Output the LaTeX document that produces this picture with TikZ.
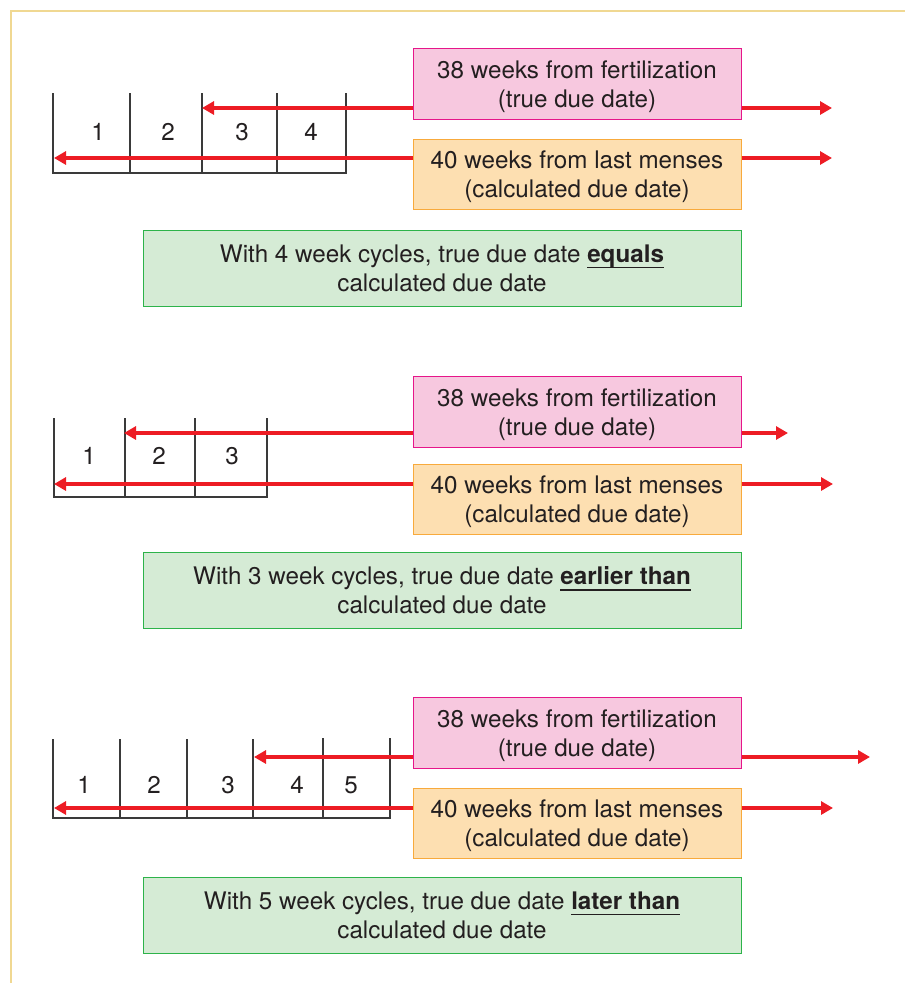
\documentclass[tikz,border=0pt]{standalone}
\usepackage{fontspec}
\setmainfont{TeX Gyre Heros}
\usetikzlibrary{arrows.meta}
\definecolor{txt}{HTML}{231F20}
\definecolor{pinkfill}{HTML}{F7C8DF}
\definecolor{pinkline}{HTML}{E6168A}
\definecolor{orfill}{HTML}{FDDFB1}
\definecolor{orline}{HTML}{F8AA3C}
\definecolor{grfill}{HTML}{D5EBD5}
\definecolor{grline}{HTML}{2DB34A}
\definecolor{arrred}{HTML}{ED1C24}
\definecolor{framecol}{HTML}{F0D892}
\definecolor{gridcol}{HTML}{3A3A3A}
\newcommand\myul[1]{\setbox0\hbox{#1}\rlap{\color{txt}\rule[-6pt]{\wd0}{1.4pt}}\box0}
\newcommand\topstrut{\rule{0pt}{24pt}}
\tikzset{
  basebox/.style={rectangle, inner sep=0pt, align=center, text=txt,
    font=\fontsize{24.2}{29}\selectfont, line width=1pt},
  pinkbox/.style={basebox, draw=pinkline, fill=pinkfill, minimum width=328pt, minimum height=71pt},
  orbox/.style={basebox, draw=orline, fill=orfill, minimum width=328pt, minimum height=70pt},
  grbox/.style={basebox, draw=grline, fill=grfill, minimum width=598pt, minimum height=76pt},
  redarrow/.style={draw=arrred, line width=3.4pt, -{Triangle[length=12pt,width=13pt]}},
  gridline/.style={draw=gridcol, line width=1.3pt},
  wknum/.style={inner sep=0pt, text=txt, font=\fontsize{24.2}{28}\selectfont},
}
\begin{document}
\begin{tikzpicture}[x=1pt,y=-1pt]
\useasboundingbox (0,0) rectangle (905,983);
\fill[white] (0,0) rectangle (905,983);
% frame
\draw[framecol, line width=2pt] (905,10.5) -- (11,10.5) -- (11,983);

% ===== Section 1 =====
\draw[gridline] (53,93) -- (53,173) -- (346,173) -- (346,93);
\foreach \x in {130,202,277} \draw[gridline] (\x,93) -- (\x,173);
\node[wknum] (a1) at (98,132) {1};
\node[wknum] (a2) at (168,132) {2};
\node[wknum] (a3) at (242,132) {3};
\node[wknum] (a4) at (311,132) {4};
\node[pinkbox] (p1) at (577,83.5) {\topstrut38 weeks from fertilization\\(true due date)};
\node[orbox] (o1) at (577,174) {\topstrut40 weeks from last menses\\(calculated due date)};
\node[grbox] (g1) at (442,268) {With 4 week cycles, true due date \myul{\textbf{equals}}\\calculated due date};
\coordinate (p1L) at (202,108);
\coordinate (p1R) at (832,108);
\coordinate (o1L) at (54,158);
\coordinate (o1R) at (832,158);
\draw[redarrow] (p1.west |- p1L) -- (p1L);
\draw[redarrow] (p1.east |- p1R) -- (p1R);
\draw[redarrow] (o1.west |- o1L) -- (o1L);
\draw[redarrow] (o1.east |- o1R) -- (o1R);

% ===== Section 2 =====
\draw[gridline] (54,418) -- (54,497) -- (267,497) -- (267,418);
\foreach \x in {125,195} \draw[gridline] (\x,418) -- (\x,497);
\node[wknum] (b1) at (89,456) {1};
\node[wknum] (b2) at (159,456) {2};
\node[wknum] (b3) at (232,456) {3};
\node[pinkbox] (p2) at (577,411.5) {\topstrut38 weeks from fertilization\\(true due date)};
\node[orbox] (o2) at (577,499) {\topstrut40 weeks from last menses\\(calculated due date)};
\node[grbox] (g2) at (442,590.5) {With 3 week cycles, true due date \myul{\textbf{earlier than}}\\calculated due date};
\coordinate (p2L) at (124,433);
\coordinate (p2R) at (788,433);
\coordinate (o2L) at (54,484);
\coordinate (o2R) at (833,484);
\draw[redarrow] (p2.west |- p2L) -- (p2L);
\draw[redarrow] (p2.east |- p2R) -- (p2R);
\draw[redarrow] (o2.west |- o2L) -- (o2L);
\draw[redarrow] (o2.east |- o2R) -- (o2R);

% ===== Section 3 =====
\draw[gridline] (53,739) -- (53,818) -- (390,818) -- (390,738);
\foreach \x in {120,187,253} \draw[gridline] (\x,739) -- (\x,818);
\draw[gridline] (323,738) -- (323,817);
\node[wknum] (c1) at (84,785) {1};
\node[wknum] (c2) at (154,785) {2};
\node[wknum] (c3) at (228,785) {3};
\node[wknum] (c4) at (297,785) {4};
\node[wknum] (c5) at (351,785) {5};
\node[pinkbox] (p3) at (577,732.5) {\topstrut38 weeks from fertilization\\(true due date)};
\node[orbox] (o3) at (577,823) {\topstrut40 weeks from last menses\\(calculated due date)};
\node[grbox] (g3) at (442,915) {With 5 week cycles, true due date \myul{\textbf{later than}}\\calculated due date};
\coordinate (p3L) at (254,757);
\coordinate (p3R) at (870,757);
\coordinate (o3L) at (54,808);
\coordinate (o3R) at (833,808);
\draw[redarrow] (p3.west |- p3L) -- (p3L);
\draw[redarrow] (p3.east |- p3R) -- (p3R);
\draw[redarrow] (o3.west |- o3L) -- (o3L);
\draw[redarrow] (o3.east |- o3R) -- (o3R);
\end{tikzpicture}
\end{document}
